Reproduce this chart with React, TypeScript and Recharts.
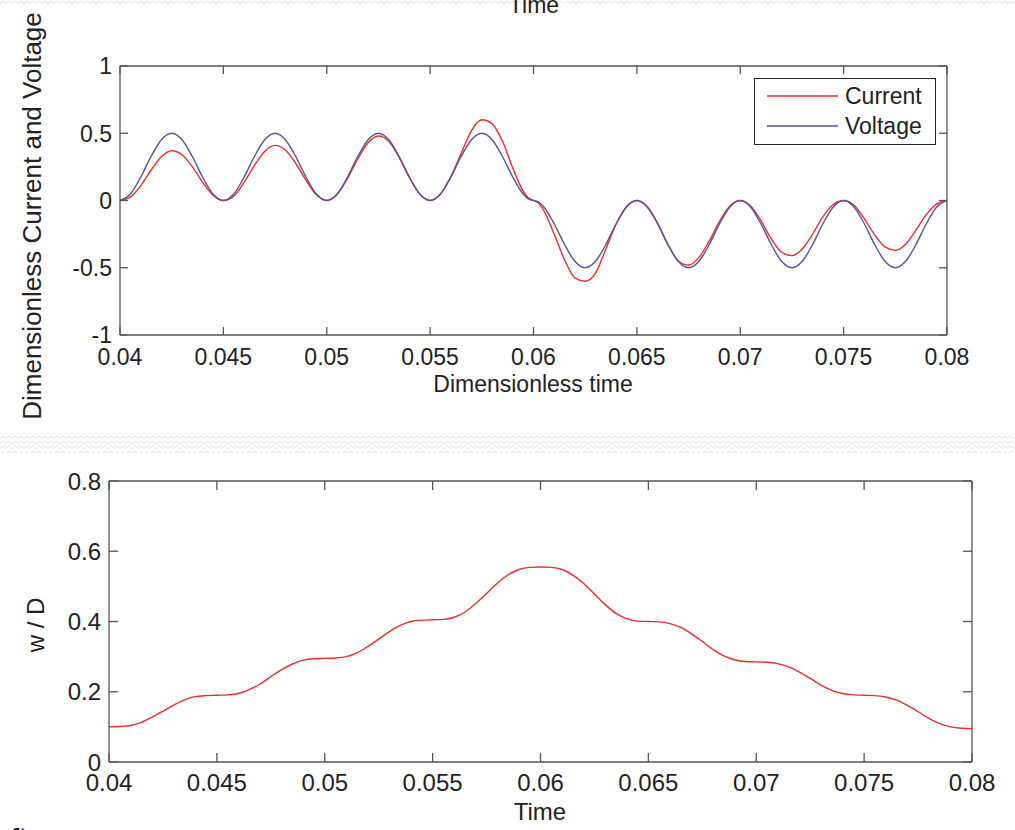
import { LineChart, Line, XAxis, YAxis } from 'recharts'

const FONT = '"Liberation Sans", Arial, Helvetica, sans-serif'
const AXIS_COLOR = '#555'
const TEXT_COLOR = '#222'
const RED = '#ee2c2c'
const BLUE = '#545499'

// top panel: dimensionless current / voltage vs time
const TIME = [
  0.04, 0.0405, 0.041, 0.0415, 0.042, 0.0425, 0.043, 0.0435, 0.044, 0.0445,
  0.045, 0.0455, 0.046, 0.0465, 0.047, 0.0475, 0.048, 0.0485, 0.049, 0.0495,
  0.05, 0.0505, 0.051, 0.0515, 0.052, 0.0525, 0.053, 0.0535, 0.054, 0.0545,
  0.055, 0.0555, 0.056, 0.0565, 0.057, 0.0575, 0.058, 0.0585, 0.059, 0.0595,
  0.05975, 0.06, 0.06025,
  0.0605, 0.061, 0.0615, 0.062, 0.0625, 0.063, 0.0635, 0.064, 0.0645, 0.065,
  0.0655, 0.066, 0.0665, 0.067, 0.0675, 0.068, 0.0685, 0.069, 0.0695, 0.07,
  0.0705, 0.071, 0.0715, 0.072, 0.0725, 0.073, 0.0735, 0.074, 0.0745, 0.075,
  0.0755, 0.076, 0.0765, 0.077, 0.0775, 0.078, 0.0785, 0.079, 0.0795, 0.08,
]

const CURRENT = [
  0, 0.025, 0.11, 0.225, 0.325, 0.37, 0.34, 0.25, 0.135, 0.04,
  0, 0.032, 0.135, 0.26, 0.365, 0.41, 0.375, 0.275, 0.15, 0.042,
  0, 0.044, 0.163, 0.31, 0.43, 0.48, 0.44, 0.32, 0.17, 0.048,
  0, 0.048, 0.178, 0.35, 0.52, 0.6, 0.57, 0.44, 0.24, 0.07,
  0.02, 0, -0.02,
  -0.075, -0.25, -0.44, -0.575, -0.6, -0.54, -0.36, -0.175, -0.045, 0,
  -0.045, -0.168, -0.325, -0.45, -0.48, -0.425, -0.3, -0.155, -0.04, 0,
  -0.04, -0.15, -0.285, -0.385, -0.41, -0.36, -0.25, -0.12, -0.03, 0,
  -0.035, -0.135, -0.255, -0.345, -0.37, -0.325, -0.22, -0.105, -0.025, 0,
]

const VOLTAGE = [
  0, 0.048, 0.173, 0.327, 0.452, 0.5, 0.452, 0.327, 0.173, 0.048,
  0, 0.048, 0.173, 0.327, 0.452, 0.5, 0.452, 0.327, 0.173, 0.048,
  0, 0.048, 0.173, 0.327, 0.452, 0.5, 0.452, 0.327, 0.173, 0.048,
  0, 0.048, 0.173, 0.327, 0.452, 0.5, 0.452, 0.327, 0.173, 0.048,
  0.012, 0, -0.012,
  -0.048, -0.173, -0.327, -0.452, -0.5, -0.452, -0.327, -0.173, -0.048, 0,
  -0.048, -0.173, -0.327, -0.452, -0.5, -0.452, -0.327, -0.173, -0.048, 0,
  -0.048, -0.173, -0.327, -0.452, -0.5, -0.452, -0.327, -0.173, -0.048, 0,
  -0.048, -0.173, -0.327, -0.452, -0.5, -0.452, -0.327, -0.173, -0.048, 0,
]

// bottom panel: w / D vs time
const TIME_W = [
  0.04, 0.0405, 0.041, 0.0415, 0.042, 0.0425, 0.043, 0.0435, 0.044, 0.0445,
  0.045, 0.0455, 0.046, 0.0465, 0.047, 0.0475, 0.048, 0.0485, 0.049, 0.0495,
  0.05, 0.0505, 0.051, 0.0515, 0.052, 0.0525, 0.053, 0.0535, 0.054, 0.0545,
  0.055, 0.0555, 0.056, 0.0565, 0.057, 0.0575, 0.058, 0.0585, 0.059, 0.0595,
  0.06, 0.0605, 0.061, 0.0615, 0.062, 0.0625, 0.063, 0.0635, 0.064, 0.0645,
  0.065, 0.0655, 0.066, 0.0665, 0.067, 0.0675, 0.068, 0.0685, 0.069, 0.0695,
  0.07, 0.0705, 0.071, 0.0715, 0.072, 0.0725, 0.073, 0.0735, 0.074, 0.0745,
  0.075, 0.0755, 0.076, 0.0765, 0.077, 0.0775, 0.078, 0.0785, 0.079, 0.0795,
  0.08,
]

const W_OVER_D = [
  0.1, 0.101, 0.104, 0.113, 0.128, 0.145, 0.162, 0.177, 0.186, 0.189,
  0.19, 0.191, 0.195, 0.206, 0.222, 0.243, 0.263, 0.279, 0.29, 0.294,
  0.295, 0.296, 0.3, 0.311, 0.329, 0.35, 0.371, 0.389, 0.4, 0.404,
  0.405, 0.406, 0.412, 0.427, 0.451, 0.48, 0.509, 0.533, 0.548, 0.554,
  0.555, 0.554, 0.548, 0.532, 0.508, 0.478, 0.448, 0.423, 0.408, 0.401,
  0.4, 0.399, 0.394, 0.383, 0.365, 0.343, 0.32, 0.302, 0.291, 0.286,
  0.285, 0.284, 0.28, 0.271, 0.256, 0.238, 0.219, 0.204, 0.195, 0.191,
  0.19, 0.189, 0.185, 0.176, 0.161, 0.143, 0.124, 0.109, 0.1, 0.096,
  0.095,
]

const X_TICKS = [0.04, 0.045, 0.05, 0.055, 0.06, 0.065, 0.07, 0.075, 0.08]
const Y_TICKS_TOP = [-1, -0.5, 0, 0.5, 1]
const Y_TICKS_BOTTOM = [0, 0.2, 0.4, 0.6, 0.8]

const SERIES = [
  { key: 'current', name: 'Current', color: RED },
  { key: 'voltage', name: 'Voltage', color: BLUE },
]

const topData = TIME.map((t, i) => ({ t, current: CURRENT[i], voltage: VOLTAGE[i] }))
const bottomData = TIME_W.map((t, i) => ({ t, w: W_OVER_D[i] }))

// ticks point into the plot box, matlab style
function makeTick(side: 'bottom' | 'top' | 'left' | 'right', len: number, fontSize: number, gap: number) {
  return (props: any) => {
    const { x, y, payload } = props
    const label = String(payload.value)
    if (side === 'bottom')
      return (
        <g>
          <line x1={x} x2={x} y1={y} y2={y - len} stroke={AXIS_COLOR} strokeWidth={1.3} />
          <text x={x} y={y + gap} textAnchor="middle" fontSize={fontSize} fill={TEXT_COLOR} fontFamily={FONT}>{label}</text>
        </g>
      )
    if (side === 'top') return <line x1={x} x2={x} y1={y} y2={y + len} stroke={AXIS_COLOR} strokeWidth={1.3} />
    if (side === 'right') return <line x1={x} x2={x - len} y1={y} y2={y} stroke={AXIS_COLOR} strokeWidth={1.3} />
    return (
      <g>
        <line x1={x} x2={x + len} y1={y} y2={y} stroke={AXIS_COLOR} strokeWidth={1.3} />
        <text x={x - gap} y={y} dy="0.36em" textAnchor="end" fontSize={fontSize} fill={TEXT_COLOR} fontFamily={FONT}>{label}</text>
      </g>
    )
  }
}

const axisLine = { stroke: AXIS_COLOR, strokeWidth: 1.3 }

function TopChart() {
  return (
    <LineChart width={1015} height={420} data={topData} margin={{ top: 56, right: 58, bottom: 45, left: 60 }}>
      <XAxis dataKey="t" type="number" domain={[0.04, 0.08]} ticks={X_TICKS} interval={0} allowDataOverflow height={40}
        tickSize={0} tickMargin={0} tickLine={false} axisLine={axisLine} tick={makeTick('bottom', 8, 23, 30)} />
      <XAxis xAxisId="top" orientation="top" dataKey="t" type="number" domain={[0.04, 0.08]} ticks={X_TICKS} interval={0} allowDataOverflow height={10}
        tickSize={0} tickMargin={0} tickLine={false} axisLine={axisLine} tick={makeTick('top', 8, 23, 0)} />
      <YAxis type="number" domain={[-1, 1]} ticks={Y_TICKS_TOP} interval={0} allowDataOverflow width={60}
        tickSize={0} tickMargin={0} tickLine={false} axisLine={axisLine} tick={makeTick('left', 8, 23, 8)} />
      <YAxis yAxisId="right" orientation="right" type="number" domain={[-1, 1]} ticks={Y_TICKS_TOP} interval={0} allowDataOverflow width={10}
        tickSize={0} tickMargin={0} tickLine={false} axisLine={axisLine} tick={makeTick('right', 8, 23, 0)} />
      {SERIES.map(s => (
        <Line key={s.key} type="monotone" dataKey={s.key} name={s.name} stroke={s.color} strokeWidth={1.4} dot={false} isAnimationActive={false} />
      ))}
    </LineChart>
  )
}

function BottomChart() {
  return (
    <LineChart width={1015} height={390} data={bottomData} margin={{ top: 31, right: 33, bottom: 28, left: 49 }}>
      <XAxis dataKey="t" type="number" domain={[0.04, 0.08]} ticks={X_TICKS} interval={0} allowDataOverflow height={40}
        tickSize={0} tickMargin={0} tickLine={false} axisLine={axisLine} tick={makeTick('bottom', 9, 24, 29)} />
      <XAxis xAxisId="top" orientation="top" dataKey="t" type="number" domain={[0.04, 0.08]} ticks={X_TICKS} interval={0} allowDataOverflow height={10}
        tickSize={0} tickMargin={0} tickLine={false} axisLine={axisLine} tick={makeTick('top', 9, 24, 0)} />
      <YAxis type="number" domain={[0, 0.8]} ticks={Y_TICKS_BOTTOM} interval={0} allowDataOverflow width={60}
        tickSize={0} tickMargin={0} tickLine={false} axisLine={axisLine} tick={makeTick('left', 9, 24, 8)} />
      <YAxis yAxisId="right" orientation="right" type="number" domain={[0, 0.8]} ticks={Y_TICKS_BOTTOM} interval={0} allowDataOverflow width={10}
        tickSize={0} tickMargin={0} tickLine={false} axisLine={axisLine} tick={makeTick('right', 9, 24, 0)} />
      <Line type="monotone" dataKey="w" stroke={RED} strokeWidth={1.4} dot={false} isAnimationActive={false} />
    </LineChart>
  )
}

function LegendBox() {
  return (
    <svg width={182} height={67} style={{ position: 'absolute', left: 754, top: 78 }}>
      <rect x={0.5} y={0.5} width={181} height={66} fill="#fff" stroke="#222" strokeWidth={1} />
      {SERIES.map((s, i) => (
        <g key={s.key}>
          <line x1={13} x2={84} y1={18 + i * 30} y2={18 + i * 30} stroke={s.color} strokeWidth={1.5} />
          <text x={91} y={18 + i * 30} dy="0.36em" fontSize={23} fontFamily={FONT} fill={TEXT_COLOR}>{s.name}</text>
        </g>
      ))}
    </svg>
  )
}

function Overlay() {
  return (
    <svg width={1015} height={830} style={{ position: 'absolute', left: 0, top: 0, pointerEvents: 'none' }}>
      <defs>
        <pattern id="zig" width={6} height={5} patternUnits="userSpaceOnUse">
          <path d="M0 3.5 L3 1 L6 3.5" fill="none" stroke="#e2e2e2" strokeWidth={1} />
        </pattern>
      </defs>
      <rect x={0} y={0} width={1015} height={5} fill="url(#zig)" />
      <rect x={0} y={433} width={1015} height={20} fill="url(#zig)" />
      <g fontFamily={FONT} fill={TEXT_COLOR}>
        <text x={534} y={13} textAnchor="middle" fontSize={23}>Time</text>
        <text x={533} y={392} textAnchor="middle" fontSize={23}>Dimensionless time</text>
        <text transform="translate(41 216) rotate(-90)" textAnchor="middle" fontSize={26}>Dimensionless Current and Voltage</text>
        <text x={540} y={820} textAnchor="middle" fontSize={24}>Time</text>
        <text transform="translate(44 625) rotate(-90)" textAnchor="middle" fontSize={24}>w / D</text>
        <text transform="translate(25 840) rotate(-90)" fontSize={24}>e</text>
      </g>
    </svg>
  )
}

export default function App() {
  return (
    <div style={{ position: 'absolute', left: 0, top: 0, width: 1015, height: 830, overflow: 'hidden', background: '#fff' }}>
      <div style={{ position: 'absolute', left: 0, top: 0 }}>
        <TopChart />
      </div>
      <div style={{ position: 'absolute', left: 0, top: 440 }}>
        <BottomChart />
      </div>
      <LegendBox />
      <Overlay />
    </div>
  )
}
